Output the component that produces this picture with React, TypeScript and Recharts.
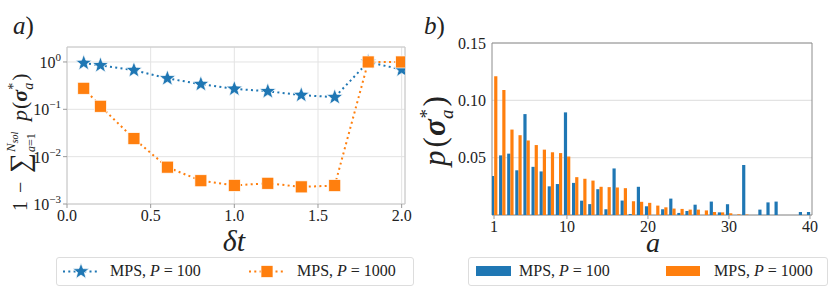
import {
  ComposedChart,
  LineChart,
  Line,
  Bar,
  XAxis,
  YAxis,
  CartesianGrid,
  ReferenceArea,
} from 'recharts';

// panel a) : error vs time step
const dtValues = [0.1, 0.2, 0.4, 0.6, 0.8, 1.0, 1.2, 1.4, 1.6, 1.8, 2.0];
const errP100 = [0.95, 0.85, 0.67, 0.45, 0.34, 0.27, 0.24, 0.2, 0.18, 1.0, 0.69];
const errP1000 = [0.278, 0.116, 0.024, 0.006, 0.0031, 0.00247, 0.00274, 0.0023, 0.00245, 1.0, 1.0];
const dtTicks = [0, 0.5, 1.0, 1.5, 2.0];
const errTicks = [0.001, 0.01, 0.1, 1];

// panel b) : probability of each solution
const solIndex = Array.from({ length: 40 }, (_, i) => i + 1);
const probP100 = [
  0.034, 0.052, 0.0535, 0.039, 0.088, 0.042, 0.038, 0.025, 0.027, 0.0895,
  0.028, 0.0125, 0.0095, 0.0225, 0.005, 0.0406, 0.0126, 0.0008, 0.0246, 0.0076,
  0, 0.005, 0.0143, 0.0018, 0.0035, 0.009, 0, 0.0117, 0.0023, 0.0094,
  0, 0.0436, 0, 0.0047, 0.011, 0.0117, 0, 0, 0.0026, 0.0026,
];
const probP1000 = [
  0.121, 0.109, 0.0745, 0.0696, 0.065, 0.061, 0.057, 0.0547, 0.054, 0.051,
  0.033, 0.0316, 0.03, 0.0246, 0.0243, 0.024, 0.0234, 0.012, 0.0115, 0.0106,
  0.0082, 0.0067, 0.0056, 0.0053, 0.0047, 0.0047, 0.004, 0.0026, 0.0023, 0.0015,
  0.0006, 0.0004, 0, 0, 0, 0, 0, 0, 0, 0,
];
const aTicks = [1, 10, 20, 30, 40];
const probTicks = [0.05, 0.1, 0.15];

const BLUE = '#1f77b4';
const ORANGE = '#ff7f0e';
const SERIF = '"Liberation Serif", "DejaVu Serif", serif';
const INK = '#222';

const errData = dtValues.map((dt, i) => ({ dt, p100: errP100[i], p1000: errP1000[i] }));
const probData = solIndex.map((a, i) => ({ a, p100: probP100[i], p1000: probP1000[i] }));

function starPath(cx: number, cy: number, r: number) {
  const pts: string[] = [];
  for (let i = 0; i < 10; i++) {
    const rr = i % 2 === 0 ? r : r * 0.42;
    const ang = -Math.PI / 2 + (i * Math.PI) / 5;
    pts.push(`${cx + rr * Math.cos(ang)},${cy + rr * Math.sin(ang)}`);
  }
  return `M${pts.join('L')}Z`;
}

function StarDot(props: any) {
  const { cx, cy } = props;
  if (cx == null || cy == null) return null;
  return <path d={starPath(cx, cy, 8.5)} fill={BLUE} stroke="#fff" strokeWidth={0.7} />;
}

function SquareDot(props: any) {
  const { cx, cy } = props;
  if (cx == null || cy == null) return null;
  return <rect x={cx - 6} y={cy - 6} width={12} height={12} fill={ORANGE} stroke="#fff" strokeWidth={0.7} />;
}

function PowTick({ x, y, payload }: any) {
  const exp = Math.round(Math.log10(payload.value));
  const label = exp < 0 ? `\u2212${-exp}` : `${exp}`;
  return (
    <text x={x} y={y} dy={6} textAnchor="end" fontFamily={SERIF} fontSize={16} fill={INK}>
      10<tspan dy={-7} fontSize={11}>{label}</tspan>
    </text>
  );
}

function LegendLabel({ p }: { p: string }) {
  return (
    <span style={{ fontFamily: SERIF, fontSize: 16, color: INK }}>
      MPS, <i>P</i> = {p}
    </span>
  );
}

const legendBox = {
  position: 'absolute' as const,
  top: 257,
  height: 29,
  border: '1px solid #ddd',
  borderRadius: 3,
  boxSizing: 'border-box' as const,
  background: '#fff',
};

export default function App() {
  return (
    <div style={{ position: 'absolute', left: 0, top: 0, width: 831, height: 289, background: '#fff', overflow: 'hidden' }}>
      {/* panel a */}
      <div style={{ position: 'absolute', left: 0, top: 0 }}>
        <LineChart width={420} height={250} data={errData} margin={{ top: 47, right: 15, bottom: 16, left: 0 }}>
          <ReferenceArea x1={0} x2={2.02} y1={0.001} y2={2.07} fill="none" stroke="#c8c8c8" strokeWidth={1} ifOverflow="visible" />
          <CartesianGrid stroke="#e3e3e3" strokeWidth={1} />
          <XAxis
            dataKey="dt"
            type="number"
            domain={[0, 2.02]}
            ticks={dtTicks}
            allowDataOverflow
            tickFormatter={(v: number) => v.toFixed(1)}
            axisLine={false}
            tickSize={4}
            tickLine={{ stroke: '#999' }}
            tick={{ fontFamily: SERIF, fontSize: 16, fill: INK }}
            height={30}
          />
          <YAxis
            type="number"
            scale="log"
            domain={[0.001, 2.07]}
            ticks={errTicks}
            allowDataOverflow
            axisLine={false}
            tickSize={4}
            tickLine={{ stroke: '#999' }}
            tick={<PowTick />}
            width={67}
          />
          <Line
            dataKey="p100"
            stroke={BLUE}
            strokeWidth={2}
            strokeDasharray="2 3.3"
            dot={<StarDot />}
            activeDot={false}
            isAnimationActive={false}
          />
          <Line
            dataKey="p1000"
            stroke={ORANGE}
            strokeWidth={2}
            strokeDasharray="2 3.3"
            dot={<SquareDot />}
            activeDot={false}
            isAnimationActive={false}
          />
        </LineChart>
      </div>

      {/* panel b */}
      <div style={{ position: 'absolute', left: 420, top: 0 }}>
        <ComposedChart width={411} height={250} data={probData} margin={{ top: 43, right: 19, bottom: 10, left: 0 }} barGap={0}>
          <CartesianGrid stroke="#e3e3e3" strokeWidth={1.2} vertical={false} />
          <XAxis
            dataKey="a"
            type="number"
            domain={[0.75, 40.25]}
            ticks={aTicks}
            allowDataOverflow
            axisLine={false}
            tickSize={4}
            tickLine={{ stroke: '#999' }}
            tick={{ fontFamily: SERIF, fontSize: 16, fill: INK }}
            height={25}
          />
          <YAxis
            type="number"
            domain={[0, 0.15]}
            ticks={probTicks}
            allowDataOverflow
            axisLine={false}
            tickSize={4}
            tickLine={false}
            tickFormatter={(v: number) => v.toFixed(2)}
            tick={{ fontFamily: SERIF, fontSize: 16, fill: INK }}
            width={72}
          />
          <Bar dataKey="p100" fill={BLUE} barSize={3.2} isAnimationActive={false} />
          <Bar dataKey="p1000" fill={ORANGE} barSize={3.2} isAnimationActive={false} />
          <ReferenceArea x1={0.75} x2={40.25} y1={0} y2={0.15} fill="none" stroke="#8c8c8c" strokeWidth={1} ifOverflow="visible" />
        </ComposedChart>
      </div>

      {/* text overlay: titles and axis labels */}
      <svg width={831} height={289} style={{ position: 'absolute', left: 0, top: 0, pointerEvents: 'none' }}>
        <text x={13} y={34} fontFamily={SERIF} fontSize={25} fill={INK}>
          <tspan fontStyle="italic">a</tspan>)
        </text>
        <text x={424} y={34} fontFamily={SERIF} fontSize={25} fill={INK}>
          <tspan fontStyle="italic">b</tspan>)
        </text>
        <text x={234} y={251} textAnchor="middle" fontFamily={SERIF} fontSize={30} fontStyle="italic" fill={INK}>
          δt
        </text>
        <text x={653} y={252} textAnchor="middle" fontFamily={SERIF} fontSize={28} fontStyle="italic" fill={INK}>
          a
        </text>
        {/* rotated y label of panel a, pieces placed along the reading direction */}
        <g transform="translate(27,133) rotate(-90)" fontFamily={SERIF} fill={INK}>
          <text x={-78} y={0} fontSize={20}>1</text>
          <text x={-60} y={0} fontSize={20}>−</text>
          <text x={-40} y={2} fontSize={28}>∑</text>
          <text x={-19} y={-12} fontSize={13} fontStyle="italic">
            N<tspan dy={3} fontSize={10}>sol</tspan>
          </text>
          <text x={-19} y={8} fontSize={12}>
            <tspan fontStyle="italic">a</tspan>=1
          </text>
          <text x={12} y={0} fontSize={22}>
            <tspan fontStyle="italic">p</tspan>
            <tspan dx={1}>(</tspan>
            <tspan fontStyle="italic" fontWeight="bold">σ</tspan>
            <tspan dy={-9} fontSize={14}>*</tspan>
            <tspan dx={-7} dy={15} fontSize={14} fontStyle="italic">a</tspan>
            <tspan dx={2} dy={-6}>)</tspan>
          </text>
        </g>
        <g transform="translate(445,131) rotate(-90)">
          <text x={0} y={0} textAnchor="middle" fontFamily={SERIF} fontSize={31} fill={INK}>
            <tspan fontStyle="italic">p</tspan>
            <tspan dx={3}>(</tspan>
            <tspan dx={1} fontStyle="italic" fontWeight="bold">σ</tspan>
            <tspan dx={1} dy={-12} fontSize={19}>*</tspan>
            <tspan dx={-10} dy={20} fontSize={19} fontStyle="italic">a</tspan>
            <tspan dx={3} dy={-8}>)</tspan>
          </text>
        </g>
      </svg>

      {/* legends */}
      <div style={{ ...legendBox, left: 56, width: 358 }}>
        <svg width={40} height={27} style={{ position: 'absolute', left: 5, top: 0 }}>
          <line x1={1} x2={37} y1={13.5} y2={13.5} stroke={BLUE} strokeWidth={2} strokeDasharray="2 3.3" />
          <path d={starPath(19, 13.5, 8.5)} fill={BLUE} stroke="#fff" strokeWidth={0.7} />
        </svg>
        <div style={{ position: 'absolute', left: 53, top: 4 }}>
          <LegendLabel p="100" />
        </div>
        <svg width={40} height={27} style={{ position: 'absolute', left: 191, top: 0 }}>
          <line x1={1} x2={37} y1={13.5} y2={13.5} stroke={ORANGE} strokeWidth={2} strokeDasharray="2 3.3" />
          <rect x={13} y={7.5} width={12} height={12} fill={ORANGE} stroke="#fff" strokeWidth={0.7} />
        </svg>
        <div style={{ position: 'absolute', left: 240, top: 4 }}>
          <LegendLabel p="1000" />
        </div>
      </div>
      <div style={{ ...legendBox, left: 468, width: 360 }}>
        <div style={{ position: 'absolute', left: 7, top: 8, width: 35, height: 10, background: BLUE }} />
        <div style={{ position: 'absolute', left: 50, top: 4 }}>
          <LegendLabel p="100" />
        </div>
        <div style={{ position: 'absolute', left: 197, top: 8, width: 34, height: 10, background: ORANGE }} />
        <div style={{ position: 'absolute', left: 245, top: 4 }}>
          <LegendLabel p="1000" />
        </div>
      </div>
    </div>
  );
}
